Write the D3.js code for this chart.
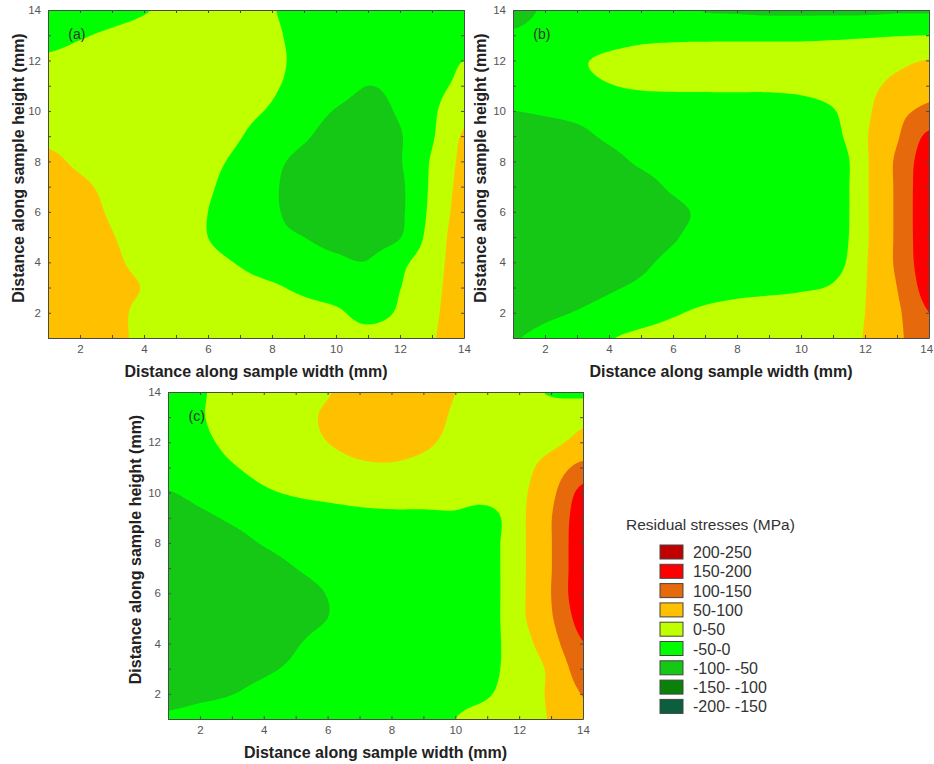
<!DOCTYPE html>
<html>
<head>
<meta charset="utf-8">
<script src="https://cdn.jsdelivr.net/npm/d3@7"></script>
<style>
  body { margin: 0; background: #ffffff; }
  text { font-family: Arial, "Liberation Sans", sans-serif; }
</style>
</head>
<body>
<div id="chart"></div>
<script>

/* load data */
var xTicks = [2, 4, 6, 8, 10, 12, 14];
var yTicks = [2, 4, 6, 8, 10, 12, 14];
var gridX = [1, 2, 3, 4, 5, 6, 7, 8, 9, 10, 11, 12, 13, 14];
var gridY = [14, 13, 12, 11, 10, 9, 8, 7, 6, 5, 4, 3, 2, 1];   // row order below
var thresholds = [-200, -150, -100, -50, 0, 50, 100, 150, 200];
var bandColors = ["#0b5e3e", "#0a820a", "#16c816", "#00ff00", "#c0ff00", "#ffc000", "#e66a0c", "#ff0000", "#c00000"];
var legendLabels = ["200-250", "150-200", "100-150", "50-100", "0-50", "-50-0", "-100- -50", "-150- -100", "-200- -150"];
var panelLabels = ["(a)", "(b)", "(c)"];

// residual stress (MPa), one row per gridY value, columns follow gridX
var stressA = [
  [-25, -18, -10,  -2,   8,  15,  12,   2, -15, -25, -30, -30, -30, -30],
  [-12,  -3,   5,  12,  20,  22,  18,   6, -12, -25, -30, -30, -25, -20],
  [  5,  12,  20,  25,  28,  28,  22,   8, -10, -28, -38, -35, -20,   0],
  [ 15,  22,  28,  30,  30,  28,  20,   5, -15, -35, -50, -40, -15,  10],
  [ 20,  28,  30,  30,  28,  22,  12,  -5, -30, -52, -60, -45,  -8,  35],
  [ 40,  30,  28,  28,  25,  18,   2, -25, -45, -65, -68, -53,  -5,  55],
  [ 60,  42,  32,  28,  22,  10, -10, -40, -60, -72, -75, -53,   5,  60],
  [ 75,  58,  40,  30,  20,   5, -20, -45, -65, -75, -78, -58,   8,  65],
  [ 80,  68,  45,  32,  18,   0, -25, -45, -62, -72, -75, -58,  12,  70],
  [ 82,  75,  52,  35,  18,   0, -20, -40, -50, -62, -65, -52,  20,  75],
  [ 85,  78,  58,  38,  20,  10,  -3, -20, -32, -42, -48, -12,  30,  75],
  [ 88,  80,  65,  48,  30,  20,  12,   5,  -8, -18, -22,  -1,  35,  78],
  [ 88,  80,  62,  40,  30,  25,  22,  18,  12,   5, -10,   5,  40,  80],
  [ 88,  78,  60,  42,  32,  28,  25,  22,  18,  14,  10,  20,  45,  85]
];

var stressB = [
  [-65, -45, -35, -30, -30, -38, -52, -55, -58, -58, -58, -58, -55, -55],
  [-45, -35, -28, -20, -12, -10, -10, -10, -10, -10,  -8,  -5,  -2,   0],
  [-30, -25,  -6,   8,  18,  22,  22,  22,  22,  22,  25,  30,  38,  52],
  [-30, -28, -15,  -2,   6,   8,   8,   8,   8,  12,  22,  38,  62,  85],
  [-50, -45, -40, -35, -30, -28, -26, -25, -24, -20,  -3,  40,  85, 110],
  [-78, -70, -58, -45, -35, -30, -28, -26, -24, -20, -15,  45,  95, 160],
  [-85, -80, -70, -60, -45, -35, -30, -28, -25, -22, -35,  42, 108, 178],
  [-88, -85, -80, -72, -62, -45, -32, -28, -28, -30, -35,  42, 108, 184],
  [-90, -88, -84, -78, -70, -58, -43, -30, -28, -30, -35,  42, 108, 185],
  [-89, -86, -82, -75, -66, -53, -38, -30, -28, -28, -32,  42, 108, 184],
  [-86, -82, -75, -66, -56, -42, -32, -25, -22, -20, -22,  45, 108, 180],
  [-80, -72, -62, -54, -44, -32, -20, -12,  -8,  -4,   5,  48, 100, 170],
  [-68, -58, -48, -36, -22,  -5,   8,  15,  18,  20,  25,  50,  92, 150],
  [-52, -40, -22,  -3,  10,  18,  22,  25,  28,  30,  35,  52,  90, 135]
];

var stressC = [
  [-30,  -4,  10,  20,  35,  48,  65,  70,  65,  50,  35,  20,  -5, -10],
  [-25,  -3,  12,  25,  38,  55,  68,  72,  66,  45,  32,  28,  30,  40],
  [-25,  -8,   8,  22,  35,  50,  60,  62,  56,  40,  28,  28,  40,  62],
  [-30, -18,  -3,  12,  25,  35,  44,  46,  40,  30,  25,  35,  70, 115],
  [-52, -38, -22,  -6,   5,  12,  18,  22,  22,  20,  22,  40,  88, 165],
  [-70, -58, -45, -35, -25, -18, -12, -10, -10,  -8, -20,  38,  98, 180],
  [-82, -72, -60, -48, -38, -30, -28, -26, -25, -25, -20,  38,  98, 185],
  [-88, -82, -72, -62, -50, -40, -30, -28, -26, -25, -20,  38,  98, 185],
  [-90, -86, -80, -70, -60, -49, -36, -28, -26, -25, -20,  38, 100, 185],
  [-90, -86, -80, -70, -60, -50, -37, -28, -26, -25, -20,  38,  95, 170],
  [-88, -84, -75, -63, -52, -40, -30, -25, -22, -20, -16,  28,  80, 148],
  [-85, -78, -65, -55, -45, -36, -28, -22, -18, -15, -10,  20,  60, 125],
  [-75, -62, -51, -40, -32, -26, -22, -18, -14,  -8,  -3,  22,  58, 102],
  [-40, -30, -28, -26, -22, -18, -14, -10,  -5,   0,  12,  30,  54,  95]
];

// where each panel sits on the page
var panels = [
  {data: stressA, left: 48,  top: 10,  right: 464, bottom: 338, ylab: 18},
  {data: stressB, left: 513, top: 10,  right: 929, bottom: 338, ylab: 480},
  {data: stressC, left: 168, top: 392, right: 583, bottom: 719, ylab: 135}
];

var svg = d3.select("#chart")
  .append("svg")
    .attr("width", 934)
    .attr("height", 764);

// smooth the coarse grid for drawing (catmull-rom, like the original software's smoothing)
var f = 8;
function cr(p0, p1, p2, p3, t) {
  return 0.5 * (2 * p1 + (-p0 + p2) * t + (2 * p0 - 5 * p1 + 4 * p2 - p3) * t * t + (-p0 + 3 * p1 - 3 * p2 + p3) * t * t * t);
}
function sample1(arr, u) {
  var n = arr.length;
  var i = Math.min(Math.floor(u), n - 2), t = u - i;
  var g = function(k) { return arr[Math.max(0, Math.min(n - 1, k))]; };
  return cr(g(i - 1), g(i), g(i + 1), g(i + 2), t);
}
function resample(grid) {
  var ny = grid.length, nx = grid[0].length;
  var NX = (nx - 1) * f + 1, NY = (ny - 1) * f + 1;
  var rows = grid.map(function(row) {
    return d3.range(NX).map(function(k) { return sample1(row, k / f); });
  });
  var out = new Array(NX * NY);
  for (var k = 0; k < NX; k++) {
    var col = rows.map(function(r) { return r[k]; });
    for (var j = 0; j < NY; j++) out[j * NX + k] = sample1(col, j / f);
  }
  return {values: out, nx: NX, ny: NY};
}

panels.forEach(function(p, pi) {
  var xScale = d3.scaleLinear().domain([1, 14]).range([p.left, p.right]);
  var yScale = d3.scaleLinear().domain([1, 14]).range([p.bottom, p.top]);

  svg.append("clipPath")
      .attr("id", "clip" + pi)
    .append("rect")
      .attr("x", p.left)
      .attr("y", p.top)
      .attr("width", p.right - p.left)
      .attr("height", p.bottom - p.top);

  var fine = resample(p.data);
  var contours = d3.contours()
    .size([fine.nx, fine.ny])
    .thresholds(thresholds)(fine.values);

  var project = d3.geoTransform({
    point: function(x, y) {
      this.stream.point(xScale(gridX[0] + (x - 0.5) / f), yScale(gridY[0] - (y - 0.5) / f));
    }
  });
  var path = d3.geoPath(project);

  svg.append("g")
      .attr("clip-path", "url(#clip" + pi + ")")
    .selectAll("path")
    .data(contours)
    .enter()
    .append("path")
      .attr("d", path)
      .style("fill", function(d) { return bandColors[thresholds.indexOf(d.value)]; })
      .style("stroke", "none");

  // axes, ticks every mm pointing inwards
  var allTicks = d3.range(1, 15);
  var bottomAx = svg.append("g")
      .attr("class", "ax")
      .attr("transform", "translate(0," + p.bottom + ")")
      .call(d3.axisBottom(xScale).tickValues(allTicks).tickSizeInner(-3).tickSizeOuter(0).tickPadding(7)
        .tickFormat(function(d) { return xTicks.indexOf(d) >= 0 ? d : ""; }));
  // keep the last label inside the window
  bottomAx.selectAll(".tick text")
      .filter(function(d) { return d === 14; })
      .attr("dx", pi === 1 ? "-0.25em" : 0);
  svg.append("g")
      .attr("class", "ax")
      .attr("transform", "translate(" + p.left + ",0)")
      .call(d3.axisLeft(yScale).tickValues(allTicks).tickSizeInner(-3).tickSizeOuter(0).tickPadding(7)
        .tickFormat(function(d) { return yTicks.indexOf(d) >= 0 ? d : ""; }));
  svg.append("g")
      .attr("class", "ax")
      .attr("transform", "translate(0," + p.top + ")")
      .call(d3.axisTop(xScale).tickValues(allTicks).tickSizeInner(-3).tickSizeOuter(0).tickFormat(""));
  svg.append("g")
      .attr("class", "ax")
      .attr("transform", "translate(" + p.right + ",0)")
      .call(d3.axisRight(yScale).tickValues(allTicks).tickSizeInner(-3).tickSizeOuter(0).tickFormat(""));

  // panel letter
  svg.append("text")
      .attr("x", xScale(1.9))
      .attr("y", yScale(12.85))
      .attr("text-anchor", "middle")
      .style("font-size", "14px")
      .style("fill", "#333")
      .text(panelLabels[pi]);

  // X axis label
  svg.append("text")
      .attr("text-anchor", "middle")
      .attr("x", (p.left + p.right) / 2)
      .attr("y", p.bottom + 39)
      .style("font-size", "16px")
      .style("font-weight", "bold")
      .style("fill", "#222")
      .text("Distance along sample width (mm)");

  // Y axis label
  svg.append("text")
      .attr("text-anchor", "middle")
      .attr("transform", "translate(" + (p.ylab + 6) + "," + ((p.top + p.bottom) / 2 - 6) + ")rotate(-90)")
      .style("font-size", "16px")
      .style("font-weight", "bold")
      .style("fill", "#222")
      .text("Distance along sample height (mm)");
});

// Customization
svg.selectAll(".ax path").attr("stroke", "#4a4a4a");
svg.selectAll(".ax .tick line").attr("stroke", "#4a4a4a");
svg.selectAll(".ax .tick text").attr("fill", "#555").style("font-size", "11.5px").style("font-family", "Arial, 'Liberation Sans', sans-serif");

// legend
var legend = svg.append("g");
legend.append("text")
    .attr("x", 626)
    .attr("y", 530)
    .style("font-size", "15.5px")
    .style("fill", "#333")
    .text("Residual stresses (MPa)");

var legendColors = bandColors.slice().reverse();
legend.selectAll("rect")
  .data(legendLabels)
  .enter()
  .append("rect")
    .attr("x", 660)
    .attr("y", function(d, i) { return 545 + i * 19.3; })
    .attr("width", 23)
    .attr("height", 14)
    .style("fill", function(d, i) { return legendColors[i]; })
    .style("stroke", "#444")
    .style("stroke-width", 1);

legend.selectAll("text.lab")
  .data(legendLabels)
  .enter()
  .append("text")
    .attr("class", "lab")
    .attr("x", 693)
    .attr("y", function(d, i) { return 558 + i * 19.3; })
    .style("font-size", "16px")
    .style("fill", "#333")
    .text(function(d) { return d; });

</script>
</body>
</html>
